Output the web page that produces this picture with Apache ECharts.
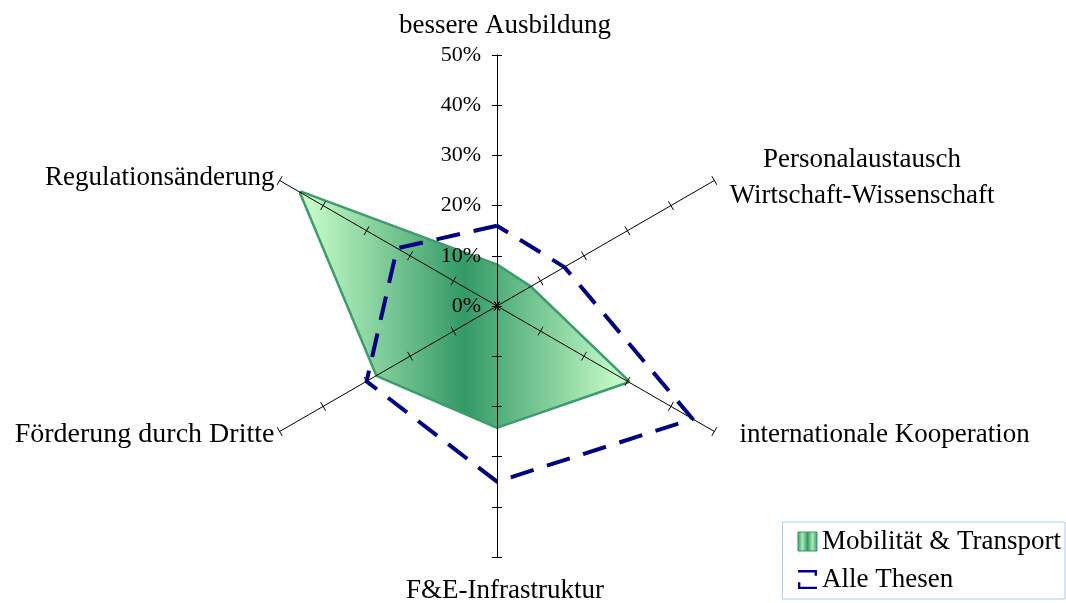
<!DOCTYPE html>
<html>
<head>
<meta charset="utf-8">
<script src="https://cdn.jsdelivr.net/npm/echarts@6/dist/echarts.min.js"></script>
<style>
html, body { margin: 0; padding: 0; background: #fff; }
#main { width: 1066px; height: 603px; }
</style>
</head>
<body>
<div id="main"></div>
<script>
// indicators, counter-clockwise from the top
var categories = ['bessere Ausbildung', 'Regulationsänderung', 'Förderung durch Dritte',
    'F&E-Infrastruktur', 'internationale Kooperation', 'Personalaustausch\nWirtschaft-Wissenschaft'];
var mobilitaet = [8, 45, 27.5, 24, 30, 7.5];
var alleThesen = [16, 23, 30, 35, 45, 15.5];
var axisMax = 50;
var tickLabels = ['0%', '10%', '20%', '30%', '40%', '50%'];

var seriesNames = ['Mobilität & Transport', 'Alle Thesen'];

var font = 'Liberation Serif';
var center = [497, 306];
var radius = 251;

var greenFill = new echarts.graphic.LinearGradient(0, 0, 1, 0, [
    {offset: 0, color: '#ccffcc'},
    {offset: 0.5, color: '#339966'},
    {offset: 1, color: '#ccffcc'}
]);
var greenIcon = new echarts.graphic.LinearGradient(0, 0, 1, 0, [
    {offset: 0, color: '#339966'},
    {offset: 0.25, color: '#aee8b8'},
    {offset: 0.5, color: '#339966'},
    {offset: 0.75, color: '#aee8b8'},
    {offset: 1, color: '#339966'}
]);

// rich style per indicator name, to nudge them where the original puts them
var nameStyle = {
    'bessere Ausbildung': 'top',
    'Regulationsänderung': 'left',
    'Förderung durch Dritte': 'left2',
    'F&E-Infrastruktur': 'bottom',
    'internationale Kooperation': 'lr',
    'Personalaustausch\nWirtschaft-Wissenschaft': 'ur'
};

var indicators = categories.map(function (c) { return {name: c, min: 0, max: axisMax}; });

var myChart = echarts.init(document.getElementById('main'));
var option = {
    backgroundColor: '#fff',
    animation: false,
    legend: {
        orient: 'vertical',
        right: 1,
        bottom: 4,
        padding: [6, 4, 6, 15],
        itemGap: 11,
        itemWidth: 19,
        itemHeight: 19,
        borderColor: '#a6cdf0',
        borderWidth: 1,
        textStyle: {fontFamily: font, fontSize: 27, color: '#000'},
        data: [
            {name: seriesNames[0], icon: 'rect',
             itemStyle: {color: greenIcon, borderColor: '#339966', borderWidth: 1}},
            {name: seriesNames[1],
             icon: 'path://M0,0H20V6H17.5V2.5H0Z M0,13H2.5V17.5H20V20H0Z',
             itemStyle: {color: '#000080', borderWidth: 0}}
        ]
    },
    radar: [
        {
            // main axes with names and ticks on one side
            indicator: indicators,
            center: center,
            radius: radius,
            startAngle: 90,
            splitNumber: 5,
            shape: 'polygon',
            z: 2,
            axisName: {
                color: '#000',
                fontFamily: font,
                fontSize: 27,
                formatter: function (name) {
                    var lines = name.split('\n');
                    var st = nameStyle[name];
                    return lines.map(function (l) { return '{' + st + '|' + l + '}'; }).join('\n');
                },
                rich: {
                    top: {fontFamily: font, fontSize: 27, color: '#000', padding: [0, 0, 10, 16]},
                    left: {fontFamily: font, fontSize: 27, color: '#000'},
                    left2: {fontFamily: font, fontSize: 28, color: '#000'},
                    bottom: {fontFamily: font, fontSize: 27, color: '#000', padding: [14, 0, 0, 16]},
                    lr: {fontFamily: font, fontSize: 27, color: '#000', padding: [0, 0, 0, 20]},
                    ur: {fontFamily: font, fontSize: 27, color: '#000', width: 285, align: 'center', lineHeight: 36}
                }
            },
            nameGap: 6,
            axisLine: {show: true, lineStyle: {color: '#000', width: 1}},
            axisTick: {show: true, length: 5, lineStyle: {color: '#000', width: 1}},
            axisLabel: {show: false},
            splitLine: {show: false},
            splitArea: {show: false}
        },
        {
            // same axes again, only for the ticks on the other side
            indicator: indicators,
            center: center,
            radius: radius,
            startAngle: 90,
            splitNumber: 5,
            shape: 'polygon',
            z: 2,
            axisName: {show: false},
            axisLine: {show: false},
            axisTick: {show: true, length: -5, lineStyle: {color: '#000', width: 1}},
            axisLabel: {show: false},
            splitLine: {show: false},
            splitArea: {show: false}
        },
        {
            // percentage labels along the top axis
            indicator: [{name: categories[0], min: 0, max: axisMax}],
            center: center,
            radius: radius,
            startAngle: 90,
            splitNumber: 5,
            z: 2,
            axisName: {show: false},
            axisLine: {show: false},
            axisTick: {show: false},
            axisLabel: {
                show: true,
                showMinLabel: true,
                showMaxLabel: true,
                margin: 16,
                color: '#000',
                fontFamily: font,
                fontSize: 22,
                formatter: function (v, i) { return tickLabels[i]; }
            },
            splitLine: {show: false},
            splitArea: {show: false}
        }
    ],
    series: [
        {
            type: 'radar',
            radarIndex: 0,
            z: 1,
            symbol: 'none',
            data: [{value: mobilitaet, name: seriesNames[0]}],
            itemStyle: {color: greenFill},
            lineStyle: {color: '#3c9c6c', width: 5},
            areaStyle: {color: greenFill, opacity: 1}
        },
        {
            type: 'radar',
            radarIndex: 0,
            z: 3,
            symbol: 'none',
            data: [{value: alleThesen, name: seriesNames[1]}],
            itemStyle: {color: '#000080'},
            lineStyle: {color: '#000080', width: 4, type: [24, 14], cap: 'butt'}
        }
    ]
};
myChart.setOption(option);
</script>
</body>
</html>
